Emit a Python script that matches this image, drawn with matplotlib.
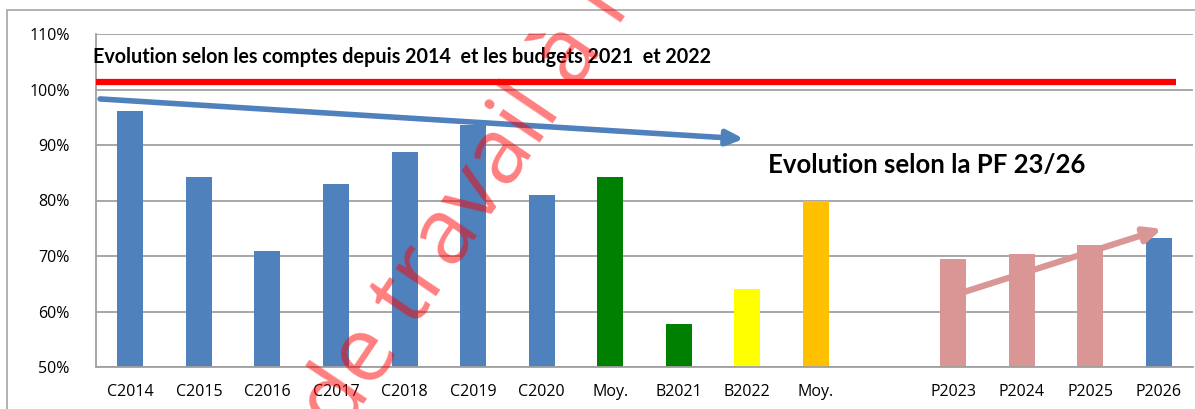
import numpy as np
import matplotlib
matplotlib.use("Agg")
import matplotlib.pyplot as plt
from matplotlib.patches import Rectangle
import matplotlib.patheffects as pe

categories = ["C2014", "C2015", "C2016", "C2017", "C2018", "C2019", "C2020",
              "Moy.", "B2021", "B2022", "Moy.", "", "P2023", "P2024", "P2025", "P2026"]
values = [96.1, 84.2, 70.9, 83.0, 88.8, 93.6, 81.0,
          84.2, 57.7, 64.0, 80.0, np.nan, 69.5, 70.4, 72.0, 73.2]
colors = ["#4F81BD"] * 7 + ["#008000", "#008000", "#FFFF00", "#FFC000", "white",
          "#D99694", "#D99694", "#D99694", "#4F81BD"]
yticks = [50, 60, 70, 80, 90, 100, 110]

red_line_level = 101.3
blue_arrow = {"start": (-0.44, 98.3), "end": (8.95, 91.1)}
pink_arrow = {"start": (11.98, 62.8), "end": (15.05, 74.9)}

title1 = "Evolution selon les comptes depuis 2014  et les budgets 2021  et 2022"
title2 = "Evolution selon la PF 23/26"
watermark = "le de travail à l'usage"

W, H = 1195, 409
fig = plt.figure(figsize=(W / 100, H / 100), dpi=100)
fig.patch.set_facecolor("white")

# outer frame
fig.patches.append(Rectangle((7 / W, -0.1), 1.2, 1 - 10 / H + 0.1, transform=fig.transFigure,
                             fill=False, edgecolor="#A6A6A6", linewidth=1.2))

ax = fig.add_axes([96 / W, 1 - 367 / H, (1193 - 96) / W, (367 - 34) / H])
x = np.arange(len(categories))
ax.bar(x, values, width=0.38, color=colors, zorder=2)
ax.set_xlim(-0.5, len(categories) - 0.5)
ax.set_ylim(50, 110)
ax.set_yticks(yticks)
ax.set_yticklabels([f"{v}%" for v in yticks], fontsize=11.5, family="Open Sans")
ax.set_xticks(x)
ax.set_xticklabels(categories, fontsize=11.5, family="Open Sans")
ax.tick_params(axis="y", length=0, pad=19)
ax.tick_params(axis="x", length=0, pad=12)
ax.grid(axis="y", color="#A0A0A0", linewidth=1.3, zorder=0)
ax.set_axisbelow(True)
for s in ["top", "right"]:
    ax.spines[s].set_visible(False)
for s in ["left", "bottom"]:
    ax.spines[s].set_color("#A0A0A0")
    ax.spines[s].set_linewidth(1.3)

# red line
ax.plot([-0.5, 15.25], [red_line_level, red_line_level], color="#FF0000", linewidth=4.5,
        solid_capstyle="butt", zorder=4)

# arrows
ax.annotate("", xy=blue_arrow["end"], xytext=blue_arrow["start"],
            arrowprops=dict(arrowstyle="-|>,head_length=1.0,head_width=0.45", color="#4F81BD",
                            linewidth=4, shrinkA=0, shrinkB=0,
                            path_effects=[pe.SimplePatchShadow(offset=(1.5, -1.5), alpha=0.25), pe.Normal()]),
            zorder=5)
ax.annotate("", xy=pink_arrow["end"], xytext=pink_arrow["start"],
            arrowprops=dict(arrowstyle="-|>,head_length=1.0,head_width=0.45", color="#D99694",
                            linewidth=4.5, shrinkA=0, shrinkB=0,
                            path_effects=[pe.SimplePatchShadow(offset=(1.5, -1.5), alpha=0.25), pe.Normal()]),
            zorder=5)

# texts
fig.text(93 / W, 1 - 57 / H, title1, fontsize=14.2, fontweight="bold", family="Lato",
         ha="left", va="center", color="black")
fig.text(768 / W, 1 - 165 / H, title2, fontsize=18.5, fontweight="bold", family="Lato",
         ha="left", va="center", color="black")

# watermark
fig.text(286 / W, 1 - 520 / H, watermark, fontsize=66, family="Open Sans", color="#FF0000",
         alpha=0.5, rotation=56, rotation_mode="anchor", ha="left", va="baseline", zorder=10)

fig.savefig("out.png", dpi=100)
